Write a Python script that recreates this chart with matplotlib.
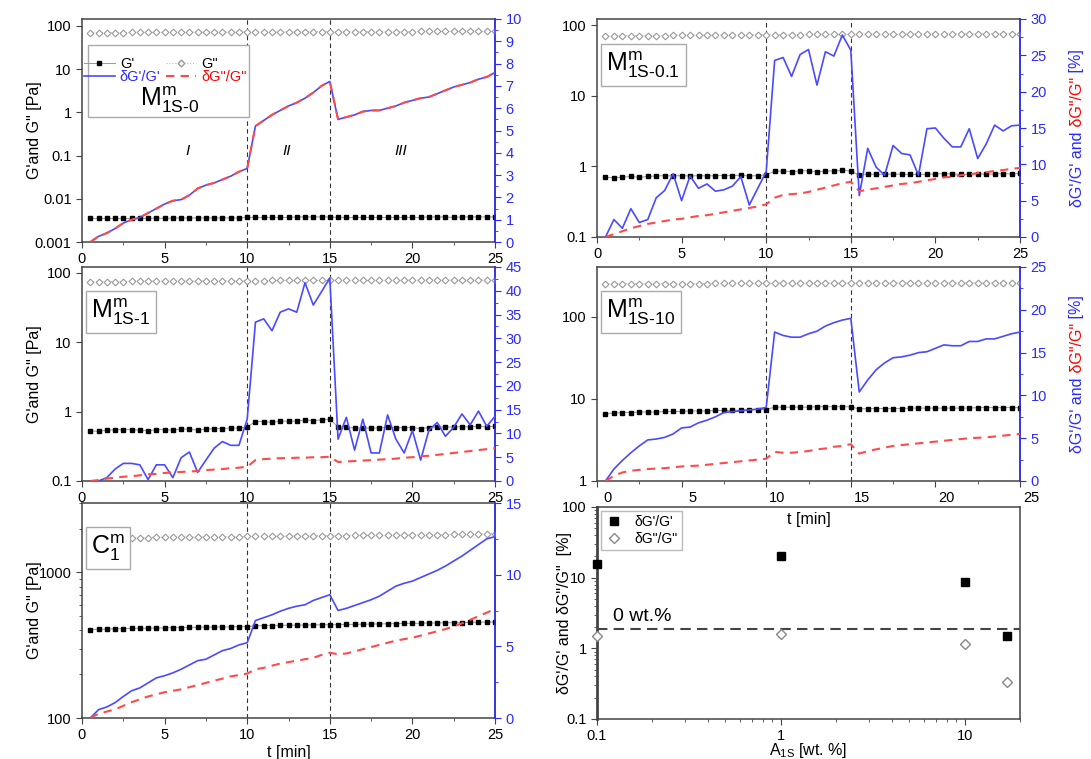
import numpy as np
import matplotlib
matplotlib.use("Agg")
from matplotlib import pyplot as plt
from matplotlib.lines import Line2D
from matplotlib.patches import Rectangle
from matplotlib.transforms import ScaledTranslation
from matplotlib.ticker import MultipleLocator, LogLocator, NullLocator, NullFormatter

plt.rcParams['font.family'] = ['Liberation Sans', 'DejaVu Sans']
plt.rcParams['mathtext.fontset'] = 'custom'
plt.rcParams['mathtext.rm'] = 'Liberation Sans'

# time grid [min]
t = np.arange(0.5, 25.01, 0.5)

# M1S-0
gp_0 = [0.0035, 0.0035, 0.0035, 0.0035, 0.0035, 0.0035, 0.0035, 0.0035, 0.0036, 0.0035,
        0.0036, 0.0036, 0.0036, 0.0036, 0.0036, 0.0036, 0.0036, 0.0036, 0.0036, 0.0037,
        0.0037, 0.0037, 0.0037, 0.0037, 0.0037, 0.0038, 0.0038, 0.0038, 0.0038, 0.0038,
        0.0037, 0.0037, 0.0037, 0.0037, 0.0037, 0.0037, 0.0037, 0.0037, 0.0037, 0.0037,
        0.0037, 0.0038, 0.0038, 0.0038, 0.0037, 0.0038, 0.0038, 0.0038, 0.0038, 0.0038]
gpp_0 = [70, 70, 70, 70, 70, 71, 71, 71, 71, 71, 71, 71, 72, 72, 72, 72, 72, 72, 72, 73,
         73, 73, 73, 73, 73, 73, 74, 74, 74, 74, 74, 74, 74, 74, 74, 74, 74, 74, 74, 74,
         75, 75, 75, 75, 75, 75, 75, 75, 75, 75]
d1_0 = [0.0, 0.25, 0.4, 0.6, 0.85, 1.0, 1.1, 1.3, 1.5, 1.7, 1.85, 1.9, 2.1, 2.4, 2.55, 2.65,
        2.8, 2.95, 3.15, 3.3, 5.2, 5.45, 5.7, 5.9, 6.1, 6.25, 6.45, 6.7, 7.0, 7.2,
        5.5, 5.6, 5.7, 5.85, 5.9, 5.9, 6.0, 6.1, 6.25, 6.35, 6.45, 6.5, 6.65, 6.8, 6.95,
        7.05, 7.15, 7.3, 7.4, 7.6]
d2_0 = [0.0, 0.25, 0.4, 0.6, 0.85, 1.0, 1.1, 1.3, 1.5, 1.7, 1.85, 1.9, 2.1, 2.4, 2.55, 2.65,
        2.8, 2.95, 3.15, 3.3, 5.2, 5.45, 5.7, 5.9, 6.1, 6.25, 6.45, 6.7, 7.0, 7.2,
        5.5, 5.6, 5.7, 5.85, 5.9, 5.9, 6.0, 6.1, 6.25, 6.35, 6.45, 6.5, 6.65, 6.8, 6.95,
        7.05, 7.15, 7.3, 7.4, 7.6]

# M1S-0.1
gp_01 = [0.70, 0.69, 0.70, 0.72, 0.70, 0.72, 0.73, 0.74, 0.73, 0.74, 0.73, 0.74, 0.73, 0.74,
         0.74, 0.74, 0.75, 0.73, 0.74, 0.76, 0.85, 0.86, 0.84, 0.86, 0.87, 0.83, 0.86, 0.86,
         0.88, 0.86, 0.75, 0.78, 0.77, 0.77, 0.78, 0.77, 0.77, 0.77, 0.77, 0.78, 0.79, 0.78,
         0.77, 0.77, 0.79, 0.77, 0.78, 0.79, 0.78, 0.80]
gpp_01 = [70, 70, 71, 71, 71, 71, 71, 71, 72, 72, 72, 72, 72, 72, 72, 72, 72, 73, 73, 73,
          73, 73, 73, 73, 74, 74, 74, 74, 74, 74, 74, 74, 74, 74, 74, 74, 75, 75, 75, 75,
          75, 75, 75, 75, 75, 76, 76, 76, 76, 76]
d1_01 = [0, 2.4, 1.2, 3.9, 2.0, 2.4, 5.4, 6.4, 8.7, 5.0, 8.4, 6.7, 7.3, 6.3, 6.5, 7.0, 8.3,
         4.4, 6.7, 9.0, 24.3, 24.7, 22.1, 25.1, 25.8, 20.9, 25.5, 24.9, 27.8, 25.7,
         5.7, 12.2, 9.6, 8.5, 12.6, 11.5, 11.3, 8.5, 14.9, 15.0, 13.6, 12.4, 12.4, 14.9,
         10.8, 12.8, 15.4, 14.6, 15.3, 15.4]
d2_01 = [0, 0.4, 0.8, 1.2, 1.5, 1.8, 2.0, 2.2, 2.4, 2.5, 2.7, 2.9, 3.0, 3.2, 3.4, 3.6, 3.8,
         4.0, 4.2, 4.5, 5.4, 5.8, 5.9, 6.0, 6.2, 6.5, 6.8, 7.1, 7.4, 7.6, 6.3, 6.5, 6.7,
         6.9, 7.1, 7.3, 7.4, 7.6, 7.8, 8.0, 8.2, 8.3, 8.5, 8.6, 8.8, 8.9, 9.1, 9.2, 9.4, 9.5]

# M1S-1
gp_1 = [0.53, 0.52, 0.54, 0.55, 0.55, 0.55, 0.54, 0.53, 0.55, 0.55, 0.54, 0.56, 0.56, 0.54,
        0.56, 0.57, 0.57, 0.58, 0.58, 0.60, 0.72, 0.72, 0.70, 0.73, 0.73, 0.73, 0.76, 0.74,
        0.76, 0.78, 0.60, 0.60, 0.58, 0.58, 0.58, 0.58, 0.60, 0.58, 0.59, 0.59, 0.57, 0.59,
        0.60, 0.60, 0.60, 0.61, 0.60, 0.62, 0.60, 0.62]
gpp_1 = [75, 75, 75, 75, 75, 76, 76, 76, 76, 76, 76, 76, 76, 77, 77, 77, 77, 77, 77, 77,
         77, 77, 78, 78, 78, 78, 78, 78, 78, 78, 78, 78, 78, 78, 78, 78, 78, 78, 79, 79,
         79, 79, 79, 79, 79, 79, 79, 79, 79, 79]
d1_1 = [0, 0, 0.7, 2.5, 3.7, 3.7, 3.4, 0.3, 3.4, 3.4, 0.7, 4.9, 6.1, 1.8, 4.4, 6.9, 8.3, 7.5,
        7.5, 13.0, 33.4, 34.1, 31.6, 35.5, 36.2, 35.5, 41.7, 37.0, 39.8, 42.7,
        8.8, 13.4, 6.5, 13.0, 5.9, 5.9, 13.9, 8.8, 5.9, 10.6, 4.4, 10.7, 12.3, 9.4, 11.3,
        14.1, 11.8, 14.7, 11.5, 13.6]
d2_1 = [0, 0.2, 0.5, 0.7, 0.9, 1.0, 1.2, 1.4, 1.5, 1.7, 1.8, 1.9, 2.0, 2.1, 2.3, 2.4, 2.5,
        2.7, 2.8, 3.0, 4.4, 4.6, 4.7, 4.8, 4.8, 4.9, 4.9, 5.0, 5.0, 5.1, 4.0, 4.1, 4.2,
        4.3, 4.4, 4.5, 4.6, 4.7, 4.9, 5.0, 5.2, 5.3, 5.5, 5.7, 5.9, 6.1, 6.3, 6.5, 6.7, 6.9]

# M1S-10
gp_10 = [6.6, 6.7, 6.8, 6.8, 6.9, 6.9, 6.9, 7.0, 7.0, 7.0, 7.1, 7.1, 7.1, 7.2, 7.2, 7.2, 7.3,
         7.3, 7.4, 7.4, 7.9, 7.9, 7.9, 7.9, 7.9, 8.0, 8.0, 8.0, 8.0, 8.0, 7.5, 7.6, 7.6,
         7.6, 7.6, 7.6, 7.7, 7.7, 7.7, 7.7, 7.7, 7.7, 7.7, 7.7, 7.8, 7.8, 7.8, 7.8, 7.8, 7.8]
gpp_10 = [250, 250, 250, 251, 251, 251, 251, 252, 252, 252, 252, 252, 252, 253, 253, 253,
          253, 253, 253, 254, 254, 254, 254, 254, 254, 255, 255, 255, 255, 255, 255, 255,
          255, 255, 255, 256, 256, 256, 256, 256, 256, 256, 257, 257, 257, 257, 257, 258,
          258, 258]
d1_10 = [0, 1.4, 2.4, 3.3, 4.1, 4.8, 4.9, 5.1, 5.5, 6.2, 6.3, 6.8, 7.1, 7.5, 8.0, 8.1, 8.2,
         8.3, 8.4, 8.6, 17.4, 17.0, 16.8, 16.8, 17.2, 17.5, 18.1, 18.5, 18.8, 19.0,
         10.4, 11.8, 13.0, 13.8, 14.4, 14.5, 14.7, 15.0, 15.1, 15.5, 15.9, 15.8, 15.8, 16.3,
         16.3, 16.6, 16.6, 16.9, 17.2, 17.4]
d2_10 = [0, 0.6, 1.0, 1.2, 1.3, 1.4, 1.45, 1.5, 1.6, 1.7, 1.75, 1.8, 1.9, 2.0, 2.1, 2.2, 2.3,
         2.4, 2.5, 2.6, 3.4, 3.3, 3.3, 3.4, 3.5, 3.7, 3.8, 4.0, 4.1, 4.3, 3.2, 3.5, 3.7,
         3.9, 4.1, 4.2, 4.3, 4.4, 4.5, 4.6, 4.7, 4.8, 4.9, 5.0, 5.05, 5.1, 5.2, 5.3, 5.4, 5.5]

# C1
gp_c = [405, 407, 408, 410, 411, 412, 413, 414, 415, 416, 417, 418, 419, 420, 421, 421, 422,
        423, 424, 425, 430, 431, 432, 433, 434, 434, 435, 436, 437, 437, 438, 439, 440, 441,
        442, 443, 444, 445, 446, 447, 448, 449, 450, 451, 452, 453, 454, 455, 456, 457]
gpp_c = [1720, 1722, 1725, 1728, 1730, 1732, 1735, 1738, 1740, 1742, 1745, 1747, 1750, 1752,
         1755, 1757, 1760, 1762, 1765, 1767, 1770, 1772, 1775, 1777, 1780, 1782, 1784, 1786,
         1788, 1790, 1792, 1794, 1796, 1798, 1800, 1802, 1804, 1806, 1808, 1810, 1812, 1815,
         1818, 1821, 1824, 1827, 1832, 1838, 1844, 1850]
d1_c = [0, 0.58, 0.77, 1.07, 1.5, 1.9, 2.1, 2.45, 2.8, 2.95, 3.15, 3.4, 3.7, 4.0, 4.1, 4.4,
        4.7, 4.85, 5.1, 5.25, 6.8, 7.0, 7.2, 7.45, 7.65, 7.8, 7.9, 8.2, 8.4, 8.6,
        7.5, 7.65, 7.85, 8.05, 8.25, 8.5, 8.85, 9.2, 9.4, 9.55, 9.8, 10.05, 10.3, 10.6,
        10.95, 11.3, 11.7, 12.1, 12.5, 12.65]
d2_c = [0, 0.3, 0.45, 0.6, 0.85, 1.1, 1.3, 1.5, 1.65, 1.8, 1.9, 2.0, 2.15, 2.3, 2.45, 2.6,
        2.75, 2.9, 3.0, 3.1, 3.4, 3.5, 3.65, 3.8, 3.9, 4.0, 4.1, 4.2, 4.4, 4.55,
        4.45, 4.5, 4.65, 4.8, 4.95, 5.1, 5.25, 5.4, 5.5, 5.6, 5.75, 5.9, 6.05, 6.2, 6.4,
        6.6, 6.85, 7.1, 7.35, 7.6]

# summary vs A1S content
a1s = [0.1, 1, 10, 17.1]
dg1_sum = [15.6, 20.3, 8.7, 1.5]
dg2_sum = [1.5, 1.6, 1.15, 0.335]
ref_0wt = 1.88

BLUE = '#4a4aff'
RED = '#ff4a4a'
AXBLUE = '#2a2aff'
W, H = 1091, 759
LX0, LX1 = 82, 495      # left column, pixels
RX0, RX1 = 597, 1020    # right column, pixels

fig = plt.figure(figsize=(W / 100, H / 100), dpi=100)


def px_axes(l, r, top, b):
    return fig.add_axes([l / W, 1 - b / H, (r - l) / W, (b - top) / H])


def style(ax):
    for s in ax.spines.values():
        s.set_color('#444444')
        s.set_linewidth(1.1)
    ax.tick_params(direction='out', labelsize=10.5, color='#444444', length=4)
    ax.tick_params(which='minor', direction='out', length=2.5, color='#444444')


def time_panel(ax, gp, gpp, d1, d2, ylim, yticks, rmax, rmajor):
    style(ax)
    ax.set_yscale('log')
    ax.plot(t, gpp, color='#bbbbbb', lw=0.8, ls=':', marker='D', ms=3.4,
            mfc='white', mec='#999999', mew=0.8, zorder=3)
    ax.plot(t, gp, color='#999999', lw=0.7, marker='s', ms=3.4, mfc='k', mec='k', zorder=3)
    ax.axvline(10, color='#333333', lw=0.8, ls=(0, (4, 3)), zorder=1)
    ax.axvline(15, color='#333333', lw=0.8, ls=(0, (4, 3)), zorder=1)
    ax.set_xlim(0, 25)
    ax.set_ylim(*ylim)
    ax.set_yticks(yticks)
    ax.set_yticklabels([('%g' % v) for v in yticks])
    ax.yaxis.set_minor_locator(NullLocator())
    ax.yaxis.set_minor_formatter(NullFormatter())
    ax.xaxis.set_major_locator(MultipleLocator(5))
    ax.xaxis.set_minor_locator(MultipleLocator(2.5))
    ax2 = ax.twinx()
    ax2.plot(t, d1, color=BLUE, lw=1.2, zorder=4)
    ax2.plot(t, d2, color=RED, lw=1.5, ls=(0, (4, 3)), zorder=5)
    ax2.set_ylim(0, rmax)
    ax2.yaxis.set_major_locator(MultipleLocator(rmajor))
    ax2.yaxis.set_minor_locator(MultipleLocator(rmajor / 2))
    for s in ['top', 'left', 'bottom']:
        ax2.spines[s].set_visible(False)
    ax2.spines['right'].set_color(AXBLUE)
    ax2.spines['right'].set_linewidth(1.1)
    ax2.tick_params(axis='y', direction='out', colors=AXBLUE, labelsize=10.5, length=4)
    ax2.tick_params(axis='y', which='minor', direction='out', color=AXBLUE, length=2.5)
    return ax2


def boxed_label(ax, x, y, s):
    ax.text(x, y, s, transform=ax.transAxes, fontsize=18, ha='left', va='center',
            bbox=dict(boxstyle='square,pad=0.22', fc='white', ec='#aaaaaa', lw=1.0),
            zorder=10)


def left_ylabel(ax):
    ax.set_ylabel("G'and G\" [Pa]", fontsize=11.5)
    ax.yaxis.set_label_coords(-0.097, 0.5)


# panel a: M1S-0
ax1 = px_axes(LX0, LX1, 19, 242)
time_panel(ax1, gp_0, gpp_0, d1_0, d2_0, (0.001, 145), [0.001, 0.01, 0.1, 1, 10, 100], 10, 1)
left_ylabel(ax1)
for xr, s in [(6.4, 'I'), (12.4, 'II'), (19.3, 'III')]:
    ax1.text(xr, 0.125, s, style='italic', fontsize=11, ha='center', va='center')
ax1.add_patch(Rectangle((0.015, 0.56), 0.39, 0.323, transform=ax1.transAxes,
                        fc='white', ec='#aaaaaa', lw=1.0, zorder=6))
hnd = [Line2D([], [], color='#999999', lw=0.7, marker='s', ms=3.4, mfc='k', mec='k'),
       Line2D([], [], color=BLUE, lw=1.2),
       Line2D([], [], color='#bbbbbb', lw=0.8, ls=':', marker='D', ms=3.4, mfc='white',
              mec='#999999'),
       Line2D([], [], color=RED, lw=1.5, ls=(0, (4, 3)))]
leg = ax1.legend(hnd, ["G'", "\u03b4G'/G'", 'G"', '\u03b4G"/G"'], ncol=2, frameon=False,
                 loc='upper left', bbox_to_anchor=(0.005, 0.83), fontsize=10.5,
                 handlelength=2.1, handletextpad=0.35, columnspacing=0.35, labelspacing=-0.05,
                 borderaxespad=0.0, borderpad=0.0)
leg.set_zorder(7)
leg.get_texts()[1].set_color(AXBLUE)
leg.get_texts()[3].set_color('red')
ax1.text(0.213, 0.637, r'$\mathregular{M^{m}_{1S\text{-}0}}$', transform=ax1.transAxes,
         fontsize=18, ha='center', va='center', zorder=8)

# panel b: M1S-0.1
ax2 = px_axes(RX0, RX1, 19, 237)
time_panel(ax2, gp_01, gpp_01, d1_01, d2_01, (0.1, 122), [0.1, 1, 10, 100], 30, 5)
boxed_label(ax2, 0.022, 0.79, r'$\mathregular{M^{m}_{1S\text{-}0.1}}$')

# panel c: M1S-1
ax3 = px_axes(LX0, LX1, 267, 481)
time_panel(ax3, gp_1, gpp_1, d1_1, d2_1, (0.1, 122), [0.1, 1, 10, 100], 45, 5)
left_ylabel(ax3)
boxed_label(ax3, 0.022, 0.79, r'$\mathregular{M^{m}_{1S\text{-}1}}$')

# panel d: M1S-10
ax4 = px_axes(RX0, RX1, 267, 481)
time_panel(ax4, gp_10, gpp_10, d1_10, d2_10, (1, 400), [1, 10, 100], 25, 5)
ax4.set_xlabel('t [min]', fontsize=11.5)
ax4.xaxis.set_label_coords(0.5, -0.145)
# tick labels of this panel sit a little to the right in the original
for lab in ax4.get_xticklabels():
    lab.set_transform(lab.get_transform() + ScaledTranslation(0.11, 0, fig.dpi_scale_trans))
boxed_label(ax4, 0.022, 0.79, r'$\mathregular{M^{m}_{1S\text{-}10}}$')

# panel e: C1
ax5 = px_axes(LX0, LX1, 503, 718)
time_panel(ax5, gp_c, gpp_c, d1_c, d2_c, (100, 3000), [100, 1000], 15, 5)
ax5.yaxis.set_minor_locator(LogLocator(base=10, subs=np.arange(2, 10)))
ax5.yaxis.set_minor_formatter(NullFormatter())
left_ylabel(ax5)
ax5.set_xlabel('t [min]', fontsize=11.5, labelpad=2)
boxed_label(ax5, 0.022, 0.79, r'$\mathregular{C^{m}_{1}}$')

# panel f: summary
ax6 = px_axes(RX0, RX1, 507, 719)
ax6.patch.set_visible(False)
style(ax6)
ax6.spines['left'].set_linewidth(2.0)
ax6.set_xscale('log')
ax6.set_yscale('log')
ax6.set_xlim(0.1, 20)
ax6.set_ylim(0.1, 100)
ax6.axhline(ref_0wt, color='#444444', lw=1.5, ls=(0, (5, 3)), zorder=1)
ax6.text(0.122, ref_0wt * 1.12, '0 wt.%', fontsize=14, ha='left', va='bottom')
ax6.plot(a1s, dg1_sum, ls='none', marker='s', ms=6, mfc='k', mec='k', clip_on=False,
         label="\u03b4G'/G'", zorder=4)
ax6.plot(a1s, dg2_sum, ls='none', marker='D', ms=5.5, mfc='white', mec='#888888',
         clip_on=False, label='\u03b4G"/G"', zorder=4)
ax6.set_xticks([0.1, 1, 10])
ax6.set_xticklabels(['0.1', '1', '10'])
ax6.set_yticks([0.1, 1, 10, 100])
ax6.set_yticklabels(['0.1', '1', '10', '100'])
ax6.xaxis.set_minor_locator(LogLocator(base=10, subs=np.arange(2, 10)))
ax6.yaxis.set_minor_locator(LogLocator(base=10, subs=np.arange(2, 10)))
ax6.xaxis.set_minor_formatter(NullFormatter())
ax6.yaxis.set_minor_formatter(NullFormatter())
ax6.set_xlabel(r'$\mathregular{A_{1S}}$ [wt. %]', fontsize=11.5)
ax6.xaxis.set_label_coords(0.5, -0.105)
ax6.set_ylabel('\u03b4G\'/G\' and \u03b4G"/G"  [%]', fontsize=11.5)
ax6.yaxis.set_label_coords(-0.06, 0.5)
lg6 = ax6.legend(loc='upper left', bbox_to_anchor=(0.0, 1.0), fontsize=10, frameon=True,
                 fancybox=False, edgecolor='#aaaaaa', handletextpad=0.9, borderpad=0.3,
                 labelspacing=0.2, borderaxespad=0.3, handlelength=1.2)
lg6.get_frame().set_linewidth(1.0)


# two-coloured right axis labels
def color_ylabel(x, yc, parts, fs=11.5):
    texts = [fig.text(x, 0, s, color=c, rotation=90, fontsize=fs, ha='center',
                      va='bottom') for s, c in parts]
    fig.canvas.draw()
    r = fig.canvas.get_renderer()
    hs = [tx.get_window_extent(r).height / fig.bbox.height for tx in texts]
    y = yc - sum(hs) / 2
    for tx, h in zip(texts, hs):
        tx.set_y(y)
        y += h


parts = [("\u03b4G'/G' and", AXBLUE), (' \u03b4G"/G"', 'red'), (' [%]', AXBLUE)]
color_ylabel(1077 / W, 1 - 128 / H, parts)
color_ylabel(1077 / W, 1 - 374 / H, parts)

fig.savefig('out.png', dpi=100)
